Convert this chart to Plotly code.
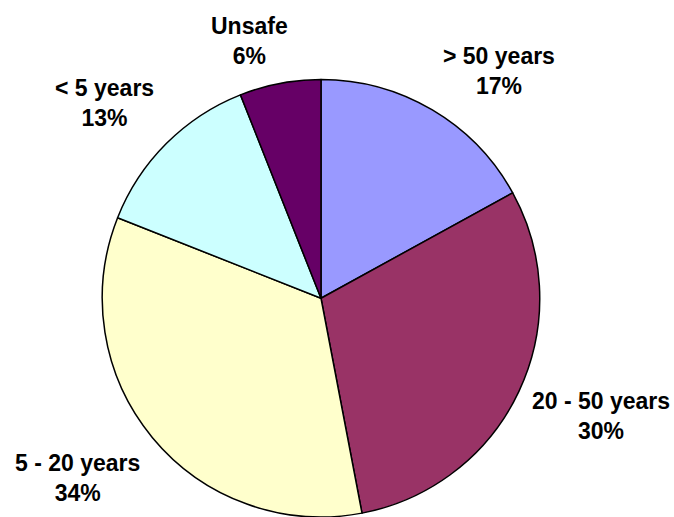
import plotly.graph_objects as go

labels = ["> 50 years", "20 - 50 years", "5 - 20 years", "< 5 years", "Unsafe"]
values = [17, 30, 34, 13, 6]
colors = ["#9999FF", "#993366", "#FFFFCC", "#CCFFFF", "#660066"]
# label centre positions in pixels (x from left, y from top)
label_px = [(499, 71), (601, 416), (77, 478), (104, 103), (249, 41)]

W, H = 674, 517
cx, cy, r = 321, 298.5, 219

fig = go.Figure(go.Pie(
    labels=labels,
    values=values,
    sort=False,
    direction="clockwise",
    rotation=0,
    marker=dict(colors=colors, line=dict(color="black", width=1.5)),
    textinfo="none",
    hoverinfo="label+percent",
    domain=dict(x=[(cx - r) / W, (cx + r) / W], y=[0, (H - cy + r) / H]),
))

total = sum(values)
for lab, v, (px, py) in zip(labels, values, label_px):
    fig.add_annotation(
        x=px / W, y=1 - py / H, xref="paper", yref="paper",
        xanchor="center", yanchor="middle", align="center",
        text=f"<b>{lab}<br>{round(100 * v / total)}%</b>",
        showarrow=False,
        font=dict(family="Liberation Sans, Arial, sans-serif", size=23, color="black"),
    )

fig.update_layout(
    width=W, height=H,
    margin=dict(l=0, r=0, t=0, b=0),
    showlegend=False,
    paper_bgcolor="white",
    plot_bgcolor="white",
)

fig.write_html(
    "out.html",
    config={"displayModeBar": False},
    post_script="document.body.style.margin='0';document.body.style.overflow='hidden';",
)
